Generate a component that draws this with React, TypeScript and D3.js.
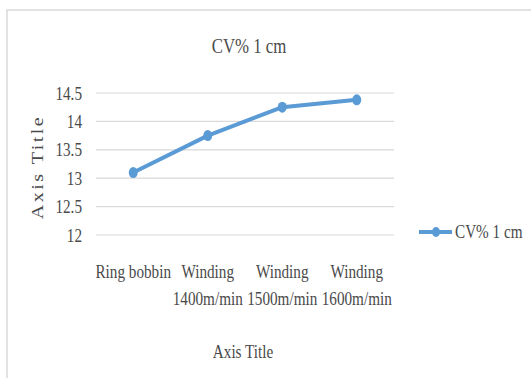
import React from "react";
import * as d3 from "d3";

// Chart content
const chartTitle = "CV% 1 cm";
const seriesName = "CV% 1 cm";
const categories = ["Ring bobbin", "Winding 1400m/min", "Winding 1500m/min", "Winding 1600m/min"];
const categoryLines = [["Ring bobbin"], ["Winding", "1400m/min"], ["Winding", "1500m/min"], ["Winding", "1600m/min"]];
const values = [13.1, 13.75, 14.25, 14.38];
const yTicks = [12, 12.5, 13, 13.5, 14, 14.5];
const xAxisTitle = "Axis Title";
const yAxisTitle = "Axis Title";

const W = 531;
const H = 378;
const FONT = "'Liberation Serif', 'Times New Roman', serif";
const TEXT = "#4a4a4a";
const GRID = "#d9d9d9";
const BLUE = "#5b9bd5";
const SX = 0.8; // horizontal condensing of the serif face

function Label(props: { x: number; y: number; size: number; anchor?: string; children: React.ReactNode; rotate?: number; ls?: number }) {
  const { x, y, size, anchor = "middle", children, rotate = 0, ls = 0 } = props;
  const t = rotate
    ? `translate(${x},${y}) rotate(${rotate}) scale(1,${SX})`
    : `translate(${x},${y}) scale(${SX},1)`;
  return (
    <text
      transform={t}
      fontFamily={FONT}
      fontSize={size}
      fill={TEXT}
      textAnchor={anchor as any}
      letterSpacing={ls}
    >
      {children}
    </text>
  );
}

export default function App() {
  const x = d3.scaleBand<string>().domain(categories).range([96, 394]).padding(0);
  const y = d3.scaleLinear().domain([12, 14.5]).range([235, 93]);
  const cx = (c: string) => (x(c) as number) + x.bandwidth() / 2;

  const line = d3
    .line<number>()
    .x((_, i) => cx(categories[i]))
    .y((v) => y(v));

  return (
    <svg width={W} height={H} style={{ position: "absolute", left: 0, top: 0, background: "#fff" }}>
      <rect x={0} y={0} width={W} height={H} fill="#fff" />
      {/* chart frame */}
      <path d={`M7,${H + 2} L7,10 L${W + 2},10`} fill="none" stroke={GRID} strokeWidth={1.5} />

      <Label x={249} y={53} size={21}>{chartTitle}</Label>

      {/* gridlines and value ticks */}
      {yTicks.map((t) => (
        <g key={t}>
          <line x1={96} x2={394} y1={y(t)} y2={y(t)} stroke={GRID} strokeWidth={1.2} />
          <Label x={82} y={y(t) + 6.5} size={19} anchor="end">{String(t)}</Label>
        </g>
      ))}

      {/* category labels */}
      {categories.map((c, i) => (
        <g key={c}>
          {categoryLines[i].map((s, j) => (
            <Label key={j} x={cx(c)} y={278 + j * 27} size={19}>{s}</Label>
          ))}
        </g>
      ))}

      <Label x={243} y={358} size={19}>{xAxisTitle}</Label>
      <Label x={43} y={167} size={20} rotate={-90} ls={2.5}>{yAxisTitle}</Label>

      {/* series */}
      <path d={line(values) || ""} fill="none" stroke={BLUE} strokeWidth={4} strokeLinejoin="round" />
      {values.map((v, i) => (
        <ellipse key={i} cx={cx(categories[i])} cy={y(v)} rx={4.5} ry={5.5} fill={BLUE} />
      ))}

      {/* legend */}
      <line x1={419} x2={452} y1={232} y2={232} stroke={BLUE} strokeWidth={4} />
      <ellipse cx={436} cy={232} rx={4} ry={5} fill={BLUE} />
      <Label x={455} y={238} size={19} anchor="start">{seriesName}</Label>
    </svg>
  );
}
